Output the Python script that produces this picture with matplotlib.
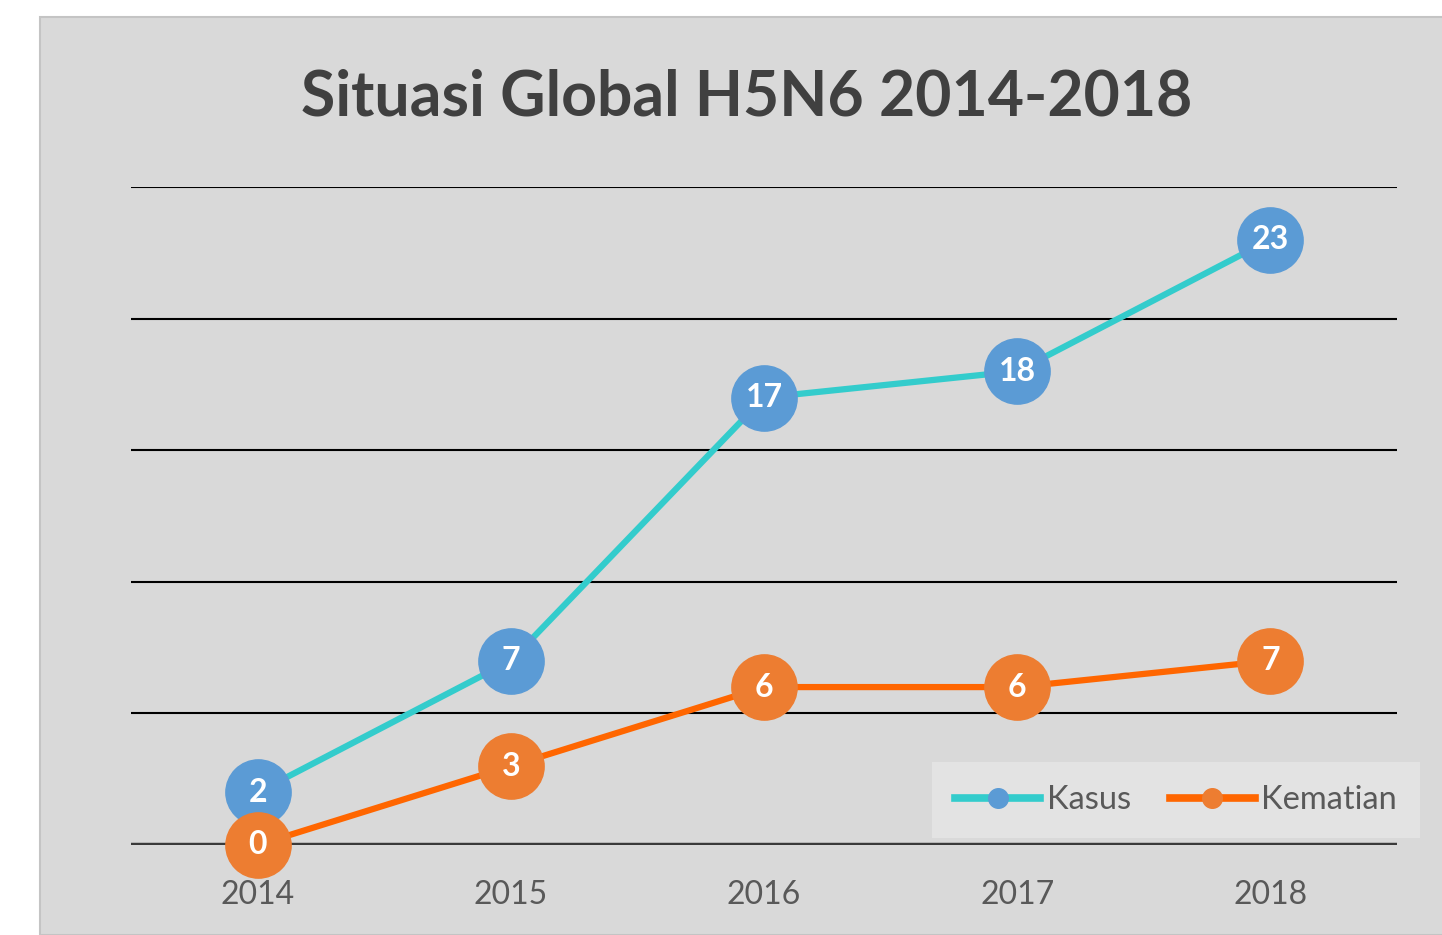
import matplotlib.pyplot as plt
from matplotlib.patches import Rectangle

years = ["2014", "2015", "2016", "2017", "2018"]
kasus = [2, 7, 17, 18, 23]
kematian = [0, 3, 6, 6, 7]

plt.rcParams['font.family'] = ['Lato', 'DejaVu Sans']

fig = plt.figure(figsize=(14.42, 9.35), dpi=100)
fig.patch.set_facecolor('white')
# gray chart panel with thin border, behind the axes
fig.patches.append(Rectangle((40 / 1442, 0), 1.0, 1 - 17 / 935, transform=fig.transFigure,
                             facecolor='#d9d9d9', edgecolor='#c4c4c4', linewidth=1.5, zorder=-1))

ax = fig.add_axes([131 / 1442, 1 - 845 / 935, (1397 - 131) / 1442, (845 - 187) / 935])
ax.set_facecolor('none')
x = range(len(years))

for y in [5, 10, 15, 20, 25]:
    ax.axhline(y, color='black', linewidth=1.5, zorder=1)
ax.axhline(0, color='#3a3a3a', linewidth=3.2, zorder=1)

ax.plot(x, kasus, color='#33cccc', linewidth=4.5, marker='o', markersize=47,
        markerfacecolor='#5b9bd5', markeredgecolor='#5b9bd5', clip_on=False, zorder=3,
        label='Kasus')
ax.plot(x, kematian, color='#ff6600', linewidth=4.5, marker='o', markersize=47,
        markerfacecolor='#ed7d31', markeredgecolor='#ed7d31', clip_on=False, zorder=4,
        label='Kematian')

for xi, v in zip(x, kasus):
    ax.text(xi, v, str(v), ha='center', va='center', color='white', fontsize=23,
            fontweight='bold', zorder=5)
for xi, v in zip(x, kematian):
    ax.text(xi, v, str(v), ha='center', va='center', color='white', fontsize=23,
            fontweight='bold', zorder=5)

ax.set_xlim(-0.5, 4.5)
ax.set_ylim(0, 25)
ax.set_xticks(list(x))
ax.set_xticklabels(years, fontsize=23, color='#595959')
ax.set_yticks([])
ax.tick_params(axis='x', length=0, pad=25)
for s in ax.spines.values():
    s.set_visible(False)

fig.text(747 / 1442, 1 - 97 / 935, "Situasi Global H5N6 2014-2018", ha='center', va='center',
         fontsize=45, fontweight='bold', color='#404040')

leg = ax.legend(loc='lower right', bbox_to_anchor=(1420 / 1442, 1 - 838 / 935),
                bbox_transform=fig.transFigure, ncol=2, fontsize=23.5, frameon=True,
                markerscale=0.3, handlelength=2.6, columnspacing=1.2, handletextpad=0.2,
                borderpad=0.7, borderaxespad=0, fancybox=False)
leg.get_frame().set_facecolor('#e3e3e3')
leg.get_frame().set_edgecolor('none')
leg.get_frame().set_alpha(1)
for t in leg.get_texts():
    t.set_color('#595959')
for h in leg.get_lines():
    h.set_linewidth(5.5)

fig.savefig("out.png", dpi=100)
